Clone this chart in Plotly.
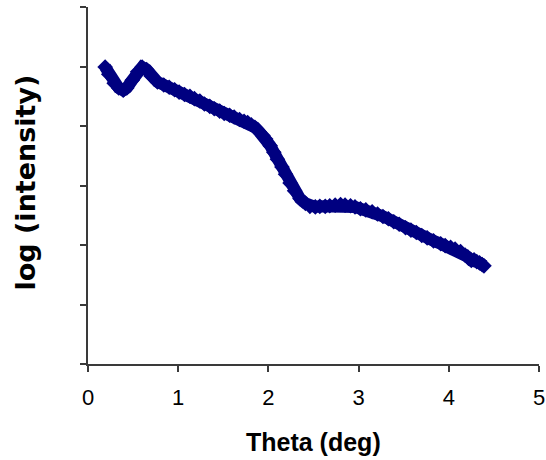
import plotly.graph_objects as go

# Reflectivity scan: scattering angle (deg) vs log of measured intensity
theta = [0.19, 0.23, 0.29, 0.34, 0.39, 0.43, 0.49, 0.55, 0.60, 0.65,
         0.70, 0.77, 0.84, 0.90, 0.96, 1.01, 1.07, 1.13, 1.18, 1.24,
         1.29, 1.35, 1.40, 1.46, 1.51, 1.57, 1.62, 1.68, 1.73, 1.77,
         1.81, 1.85, 1.90, 1.94, 1.97, 2.02, 2.06, 2.10, 2.15, 2.19,
         2.24, 2.29, 2.35, 2.41, 2.46, 2.52, 2.57, 2.63, 2.68, 2.74,
         2.80, 2.85, 2.91, 2.96, 3.02, 3.08, 3.15, 3.21, 3.27, 3.33,
         3.39, 3.45, 3.52, 3.58, 3.64, 3.70, 3.76, 3.83, 3.91, 3.96,
         4.02, 4.07, 4.13, 4.18, 4.21, 4.25, 4.28, 4.31, 4.34, 4.37,
         4.39]
log_intensity = [4.99, 4.87, 4.72, 4.64, 4.60, 4.64, 4.77, 4.91, 4.99, 4.95,
                 4.84, 4.74, 4.69, 4.65, 4.61, 4.57, 4.53, 4.50, 4.46, 4.42,
                 4.37, 4.33, 4.29, 4.25, 4.21, 4.18, 4.15, 4.11, 4.08, 4.06,
                 4.02, 3.98, 3.90, 3.84, 3.78, 3.67, 3.56, 3.44, 3.31, 3.19,
                 3.04, 2.91, 2.78, 2.70, 2.65, 2.64, 2.65, 2.65, 2.66, 2.67,
                 2.68, 2.67, 2.66, 2.64, 2.61, 2.59, 2.56, 2.52, 2.48, 2.44,
                 2.39, 2.35, 2.29, 2.25, 2.21, 2.16, 2.12, 2.07, 2.02, 1.99,
                 1.96, 1.93, 1.89, 1.83, 1.80, 1.74, 1.75, 1.72, 1.70, 1.67,
                 1.65]

x_ticks = [0, 1, 2, 3, 4, 5]
y_ticks = [0, 1, 2, 3, 4, 5, 6]

x_title = "Theta (deg)"
y_title = "log (intensity)"

navy = "#000080"
axis_col = "#3a3a3a"

fig = go.Figure()
fig.add_trace(go.Scatter(
    x=theta, y=log_intensity,
    mode="lines+markers",
    line=dict(color=navy, width=12),
    marker=dict(symbol="diamond", size=12, color=navy),
    showlegend=False,
    hoverinfo="skip",
))

fig.update_layout(
    width=546, height=460,
    margin=dict(l=88, r=7, t=7, b=96),
    paper_bgcolor="white", plot_bgcolor="white",
    font=dict(family="Liberation Sans, Arial, sans-serif", color="#000000"),
)

fig.update_xaxes(
    range=[0, 5], tickvals=x_ticks, ticktext=[str(v) for v in x_ticks],
    automargin=False,
    showgrid=False, zeroline=False,
    showline=True, linecolor=axis_col, linewidth=2,
    ticks="outside", ticklen=6, tickwidth=2, tickcolor=axis_col,
    tickfont=dict(size=22, color="#000000"),
    ticklabelstandoff=7,
)
fig.update_yaxes(
    range=[0, 6], tickvals=y_ticks,
    automargin=False,
    showgrid=False, zeroline=False, showticklabels=False,
    showline=True, linecolor=axis_col, linewidth=2,
    ticks="outside", ticklen=6, tickwidth=2, tickcolor=axis_col,
)

# Axis titles
fig.add_annotation(
    text=f"<b>{x_title}</b>", xref="paper", yref="paper",
    x=0.5, y=0, xanchor="center", yanchor="middle", yshift=-78,
    showarrow=False,
    font=dict(size=25, family="Liberation Sans, Arial, sans-serif", color="#000000"),
)
fig.add_annotation(
    text=f"<b>{y_title}</b>", xref="paper", yref="paper",
    x=0, y=0.5, xanchor="center", yanchor="middle", xshift=-63, yshift=3,
    textangle=-90, showarrow=False,
    font=dict(size=27, family="DejaVu Sans, sans-serif", color="#000000"),
)

fig.write_html("out.html")
